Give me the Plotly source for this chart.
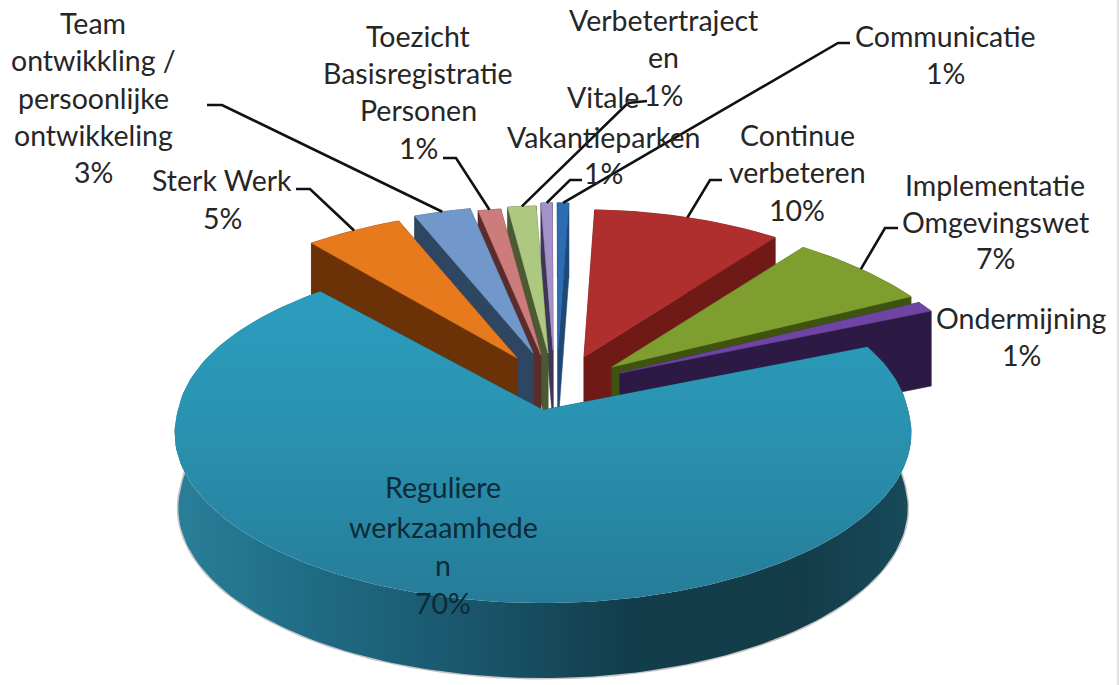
import math
import plotly.graph_objects as go

# ---------- data ----------
categories = ["Reguliere werkzaamheden", "Sterk Werk", "Team ontwikkling / persoonlijke ontwikkeling",
              "Toezicht Basisregistratie Personen", "Verbetertrajecten", "Vitale Vakantieparken",
              "Communicatie", "Continue verbeteren", "Implementatie Omgevingswet", "Ondermijning"]
values = [70.3, 5.0, 3.0, 1.2, 1.5, 0.6, 0.6, 9.9, 7.2, 1.0]
percent_labels = ["70%", "5%", "3%", "1%", "1%", "1%", "1%", "10%", "7%", "1%"]

# ---------- style / layout ----------
W, H = 1119, 685
START = 67.0
RX, RY, K, K_BACK_MAIN, DEPTH = 365.0, 167.0, 0.135, 0.09, 75.0
# exploded position of each slice's tip, in chart units
TIPS = [(543, 410), (517, 358), (533, 353), (541, 355), (548, 353),
        (553, 350), (558, 350), (584, 357), (612, 367), (620, 373)]
TOP = ["#2a95b5", "#e67a1c", "#7298cb", "#cc7c7a", "#adc981",
       "#a392c8", "#2e6cb2", "#ae2f2d", "#7f9e30", "#6f45a3"]
WALL = ["#1d6078", "#6b3208", "#2f4663", "#5a2c2b", "#4b5a33",
        "#3f3557", "#1e4976", "#701a18", "#3f5310", "#2c1a45"]
DRAW_ORDER = [6, 5, 4, 3, 2, 1, 7, 8, 9, 0]
TEXT = "#262626"
FONT = "Lato"
SIZE = 28.5

LABELS = [
    (0, 443, ["Reguliere", "werkzaamhede", "n"], [487, 527, 565], 603, "#0c2a38"),
    (1, 222, ["Sterk Werk"], [180], 218, TEXT),
    (2, 93, ["Team", "ontwikkling /", "persoonlijke", "ontwikkeling"], [23, 60, 98, 135], 172, TEXT),
    (3, 418, ["Toezicht", "Basisregistratie", "Personen"], [36, 73, 110], 148, TEXT),
    (4, 663, ["Verbetertraject", "en"], [20, 57], 95, TEXT),
    (5, 603, ["Vitale", "Vakantieparken"], [97, 137], 173, TEXT),
    (6, 945, ["Communicatie"], [36], 73, TEXT),
    (7, 797, ["Continue", "verbeteren"], [135, 172], 210, TEXT),
    (8, 995, ["Implementatie", "Omgevingswet"], [185, 222], 258, TEXT),
    (9, 1021, ["Ondermijning"], [318], 355, TEXT),
]
# leader start and elbow per slice
LEADERS = {
    1: [(296, 189), (310, 189)],
    2: [(207, 105), (222, 105)],
    3: [(443, 158), (456, 158)],
    4: [(647, 101), (628, 103)],
    5: [(582, 180), (570, 180)],
    6: [(850, 43), (838, 43)],
    7: [(722, 180), (710, 180)],
    8: [(898, 228), (885, 228)],
}


def project(idx, theta):
    tip = TIPS[idx]
    t = math.radians(theta)
    c = math.cos(t)
    if idx == 0:
        k = K_BACK_MAIN if c > 0 else K
        s = 1.0 / (1.0 + k * c)
        sx = s
    else:
        s = 1.0 / (1.0 + K * c)
        sx = s ** 1.5
    return tip[0] + RX * math.sin(t) * sx, tip[1] - RY * c * s


def arc(idx, a0, a1):
    n = max(2, int(abs(a1 - a0) / 1.5) + 2)
    return [project(idx, a0 + (a1 - a0) * i / (n - 1)) for i in range(n)]


def poly(fig, pts, color=None, gradient=None):
    kw = dict(x=[p[0] for p in pts] + [pts[0][0]], y=[p[1] for p in pts] + [pts[0][1]],
              mode="lines", fill="toself", line=dict(width=0.6, color=color or "rgba(0,0,0,0)"),
              hoverinfo="skip", showlegend=False)
    if gradient:
        kw["fillgradient"] = gradient
        kw["line"] = dict(width=0)
    else:
        kw["fillcolor"] = color
    fig.add_trace(go.Scatter(**kw))


def shift(pts, cx=None):
    if cx is None:
        return [(x, y + DEPTH) for x, y in pts]
    return [(cx + (x - cx) * 0.99, y + DEPTH) for x, y in pts]


total = sum(values)
angles = []
a = START
for v in values:
    angles.append((a, a + v / total * 360.0))
    a += v / total * 360.0

fig = go.Figure()
for i in DRAW_ORDER:
    tip = TIPS[i]
    a0, a1 = angles[i]
    outer = arc(i, a0, a1)
    # cut walls
    for edge in (outer[0], outer[-1]):
        wall = [tip, edge] + shift([edge, tip])
        poly(fig, wall, WALL[i])
    # rim
    if i == 0:
        low = shift(outer, tip[0])
        rim = outer + low[::-1]
        fig.add_trace(go.Scatter(x=[p[0] for p in low], y=[p[1] for p in low], mode="lines",
                                 line=dict(color="rgba(90,90,90,0.35)", width=3),
                                 hoverinfo="skip", showlegend=False))
        poly(fig, rim, gradient=dict(type="horizontal", start=175, stop=910, colorscale=[
            [0, "#2a7f99"], [0.18, "#1f6c85"], [0.4, "#1a566b"], [0.62, "#123d4b"], [0.85, "#143c49"], [1, "#174a5a"]]))
    else:
        rim = outer + shift(outer)[::-1]
        poly(fig, rim, WALL[i])
    # top face
    top = [tip] + outer
    if i == 0:
        poly(fig, top, gradient=dict(type="vertical", start=285, stop=605, colorscale=[
            [0, "#2c9ebf"], [0.5, "#2990ae"], [1, "#267c98"]]))
    else:
        poly(fig, top, TOP[i])

# leader lines end on the rim of their slice
for i, start in LEADERS.items():
    end = project(i, sum(angles[i]) / 2)
    pts = start + [end]
    fig.add_trace(go.Scatter(x=[p[0] for p in pts], y=[p[1] for p in pts], mode="lines",
                             line=dict(color="#111111", width=2.6), hoverinfo="skip", showlegend=False))

annotations = []
for i, x, lines, ys, pct_y, col in LABELS:
    for txt, y in list(zip(lines, ys)) + [(percent_labels[i], pct_y)]:
        annotations.append(dict(x=x, y=y, xref="x", yref="y", text=txt, showarrow=False,
                                xanchor="center", yanchor="middle",
                                font=dict(family=FONT, size=SIZE, color=col)))

fig.update_layout(
    width=W, height=H, margin=dict(l=0, r=0, t=0, b=0), autosize=False,
    paper_bgcolor="white", plot_bgcolor="white",
    xaxis=dict(range=[0, W], visible=False, fixedrange=True),
    yaxis=dict(range=[H, 0], visible=False, fixedrange=True),
    annotations=annotations,
    shapes=[dict(type="line", x0=1118, x1=1118, y0=0, y1=H, xref="x", yref="y",
                 line=dict(color="#c4c4c4", width=1))],
)
fig.write_html("out.html", config={"displayModeBar": False},
               post_script="document.body.style.margin='0';document.documentElement.style.overflow='hidden';")
